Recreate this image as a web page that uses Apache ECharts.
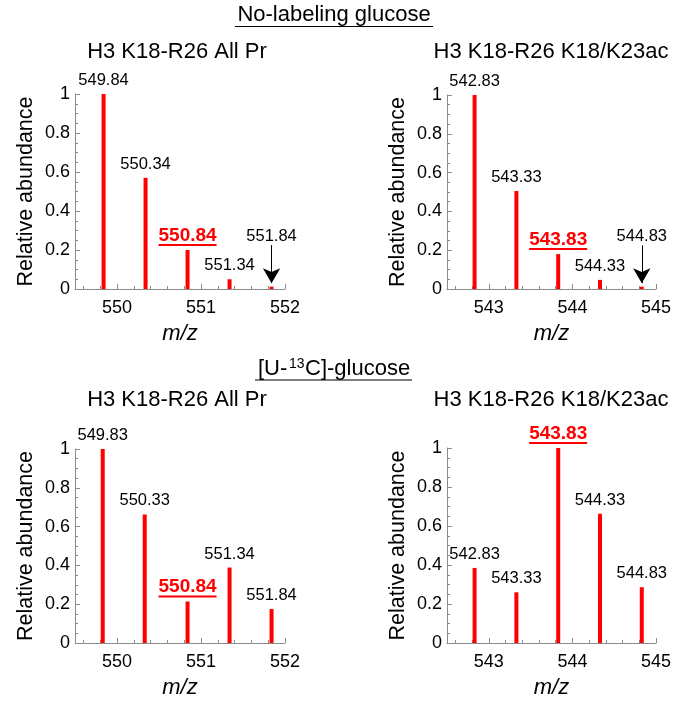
<!DOCTYPE html>
<html>
<head>
<meta charset="utf-8">
<script src="https://cdn.jsdelivr.net/npm/echarts@6/dist/echarts.min.js"></script>
<style>
  html, body { margin: 0; padding: 0; background: #fff; }
  #chart { width: 677px; height: 704px; }
</style>
</head>
<body>
<div id="chart"></div>
<script>
// peak m/z values and relative abundance, one pair of arrays per panel
const mzNoAllPr = [549.84, 550.34, 550.84, 551.34, 551.84]
const abNoAllPr = [1, 0.57, 0.2, 0.05, 0.012]
const mzNoAc = [542.83, 543.33, 543.83, 544.33, 544.83]
const abNoAc = [1, 0.505, 0.18, 0.047, 0.012]
const mzCAllPr = [549.83, 550.33, 550.84, 551.34, 551.84]
const abCAllPr = [1, 0.663, 0.214, 0.389, 0.175]
const mzCAc = [542.83, 543.33, 543.83, 544.33, 544.83]
const abCAc = [0.385, 0.26, 1, 0.663, 0.286]

const panelTitles = ['H3 K18-R26 All Pr', 'H3 K18-R26 K18/K23ac', 'H3 K18-R26 All Pr', 'H3 K18-R26 K18/K23ac']
const highlightIdx = [2, 2, 2, 2]
const arrowIdx = [4, 4, -1, -1]
const arrowFrom = 0.225
const arrowTo = 0.03
const xRanges = [[549.5, 552], [542.5, 545], [549.5, 552], [542.5, 545]]
const yTicks = [0, 0.2, 0.4, 0.6, 0.8, 1]

const panels = [
  { mz: mzNoAllPr, ab: abNoAllPr },
  { mz: mzNoAc, ab: abNoAc },
  { mz: mzCAllPr, ab: abCAllPr },
  { mz: mzCAc, ab: abCAc }
]

const FONT = 'Liberation Sans, Arial, sans-serif'
const RED = '#ff0000'
const AXIS = '#8c8c8c'

const grids = [
  { left: 75, top: 94, width: 210, height: 195 },
  { left: 447, top: 95, width: 209, height: 194 },
  { left: 75, top: 449, width: 210, height: 194 },
  { left: 447, top: 448, width: 209, height: 195 }
]

function range(a, b, step) {
  const out = []
  for (let v = a; v <= b + 1e-9; v += step) out.push(Math.round(v * 10) / 10)
  return out
}

const xAxes = []
const yAxes = []
const series = []

panels.forEach((p, i) => {
  const [lo, hi] = xRanges[i]
  const major = range(Math.ceil(lo), Math.floor(hi), 1)
  const minor = range(lo + 0.1, hi, 0.2).filter(v => Math.abs(v - Math.round(v)) > 1e-6)
  xAxes.push({
    type: 'value', gridIndex: i, min: lo, max: hi,
    name: 'm/z', nameLocation: 'middle', nameGap: 34,
    nameTextStyle: { fontFamily: FONT, fontSize: 22, fontStyle: 'italic', color: '#000' },
    axisLine: { show: true, lineStyle: { color: AXIS, width: 1 } },
    axisTick: { show: true, inside: true, length: 5, customValues: major, lineStyle: { color: AXIS } },
    axisLabel: { customValues: major, margin: 10, fontFamily: FONT, fontSize: 18, color: '#000' },
    splitLine: { show: false }
  })
  xAxes.push({
    type: 'value', gridIndex: i, min: lo, max: hi, position: 'bottom',
    axisLine: { show: false },
    axisTick: { show: true, inside: true, length: 3, customValues: minor, lineStyle: { color: AXIS } },
    axisLabel: { show: false },
    splitLine: { show: false }
  })
  yAxes.push({
    type: 'value', gridIndex: i, min: 0, max: 1, interval: 0.2,
    name: 'Relative abundance', nameLocation: 'middle', nameGap: 38,
    nameTextStyle: { fontFamily: FONT, fontSize: 21.5, color: '#000' },
    axisLine: { show: true, lineStyle: { color: AXIS, width: 1 } },
    axisTick: { show: true, inside: true, length: 5, lineStyle: { color: AXIS } },
    minorTick: { show: true, splitNumber: 4, length: 3, lineStyle: { color: AXIS } },
    axisLabel: {
      margin: 5, fontFamily: FONT, fontSize: 18, color: '#000',
      formatter: v => (yTicks.includes(v) ? String(v) : '')
    },
    splitLine: { show: false }
  })

  const data = p.mz.map((m, j) => {
    const item = { value: [m, p.ab[j]] }
    if (j === highlightIdx[i]) {
      item.label = {
        formatter: '{h|' + m.toFixed(2) + '}\n{u|}',
        distance: 4,
        rich: {
          h: { fontFamily: FONT, fontSize: 19, fontWeight: 'bold', color: RED, lineHeight: 17, height: 17 },
          u: { width: 58, height: 2, fontSize: 1, lineHeight: 2, backgroundColor: RED }
        }
      }
    } else if (j === arrowIdx[i]) {
      item.label = { distance: 42 }
    }
    return item
  })

  const s = {
    type: 'bar',
    xAxisIndex: i * 2,
    yAxisIndex: i,
    barWidth: 4,
    itemStyle: { color: RED },
    data: data,
    label: {
      show: true, position: 'top', distance: 5,
      fontFamily: FONT, fontSize: 16.5, color: '#000',
      formatter: q => q.value[0].toFixed(2)
    },
    silent: true
  }
  if (arrowIdx[i] >= 0) {
    const m = p.mz[arrowIdx[i]]
    s.markLine = {
      silent: true,
      symbol: ['none', 'arrow'],
      symbolSize: [13, 15],
      label: { show: false },
      lineStyle: { color: '#000', width: 1, type: 'solid' },
      data: [[{ coord: [m, arrowFrom] }, { coord: [m, arrowTo] }]]
    }
  }
  series.push(s)
})

const titleCenters = [[177, 52], [551, 52], [177, 400], [551, 400]]
const graphic = panelTitles.map((t, i) => ({
  type: 'text', x: titleCenters[i][0], y: titleCenters[i][1],
  style: { text: t, fontFamily: FONT, fontSize: 22, fill: '#000', align: 'center', verticalAlign: 'middle' }
}))
graphic.push(
  { type: 'text', x: 334, y: 15,
    style: { text: 'No-labeling glucose', fontFamily: FONT, fontSize: 22, fill: '#000', align: 'center', verticalAlign: 'middle' } },
  { type: 'line', shape: { x1: 235, y1: 26.5, x2: 433, y2: 26.5 }, style: { stroke: '#000', lineWidth: 1.2 } },
  { type: 'text', x: 258, y: 358,
    style: { text: '[U-', fontFamily: FONT, fontSize: 22, fill: '#000', align: 'left', verticalAlign: 'top' } },
  { type: 'text', x: 289, y: 357,
    style: { text: '13', fontFamily: FONT, fontSize: 14, fill: '#000', align: 'left', verticalAlign: 'top' } },
  { type: 'text', x: 305, y: 358,
    style: { text: 'C]-glucose', fontFamily: FONT, fontSize: 22, fill: '#000', align: 'left', verticalAlign: 'top' } },
  { type: 'line', shape: { x1: 255, y1: 380, x2: 412, y2: 380 }, style: { stroke: '#000', lineWidth: 1.2 } }
)

const chart = echarts.init(document.getElementById('chart'))
chart.setOption({
  animation: false,
  backgroundColor: '#fff',
  grid: grids,
  xAxis: xAxes,
  yAxis: yAxes,
  series: series,
  graphic: graphic
})
</script>
</body>
</html>
